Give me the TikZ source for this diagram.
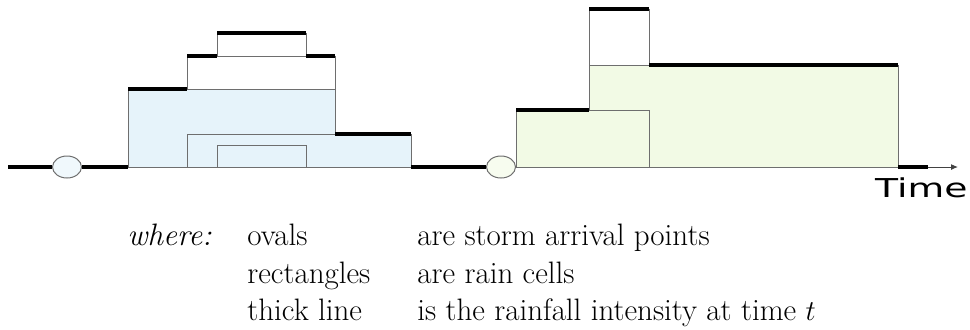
\documentclass[tikz,border=0pt]{standalone}
\usepackage{fontspec}
\usetikzlibrary{shapes.geometric,arrows.meta}
\newfontfamily\timefont{DejaVu Sans}
\definecolor{cellblue}{HTML}{E6F3FA}
\definecolor{cellgreen}{HTML}{F2FAE5}
\definecolor{edgegray}{HTML}{6E6E6E}
\begin{document}
\begin{tikzpicture}[x=0.5pt,y=-0.5pt,
  cell/.style={draw=edgegray,line width=0.5pt},
  rain/.style={line width=2pt},
  arrival/.style={ellipse,draw=edgegray,line width=0.5pt,inner sep=0pt,minimum width=14.5pt,minimum height=11pt},
  legend/.style={inner sep=0pt,font=\fontsize{15.5}{19}\selectfont}]
\useasboundingbox (0,0) rectangle (970,329);
\draw[edgegray!60!black,line width=0.5pt,-{Latex[length=3.5pt,width=3pt]}] (8,167) -- (958,167);
\filldraw[cell,fill=cellblue] (128,167) rectangle (335,89);
\filldraw[cell,fill=cellblue] (187,167) rectangle (411,134);
\draw[cell] (217,167) rectangle (306,145);
\draw[cell] (187,89) rectangle (335,56);
\draw[cell] (217,56) rectangle (306,33);
\filldraw[cell,fill=cellgreen] (589,167) rectangle (898,65);
\filldraw[cell,fill=cellgreen] (516,167) rectangle (649,110);
\draw[cell] (589,65) rectangle (649,9);
\node[arrival,fill=cellblue!60] (arr1) at (67,167) {};
\node[arrival,fill=cellgreen!60] (arr2) at (501,167) {};
\draw[rain] (8,167) -- (arr1.west);
\draw[rain] (arr1.east) -- (128,167);
\draw[rain] (128,89) -- (187,89);
\draw[rain] (187,56) -- (217,56);
\draw[rain] (217,33) -- (306,33);
\draw[rain] (306,56) -- (335,56);
\draw[rain] (335,134) -- (411,134);
\draw[rain] (411,167) -- (arr2.west);
\draw[rain] (516,110) -- (589,110);
\draw[rain] (589,9) -- (649,9);
\draw[rain] (649,65) -- (898,65);
\draw[rain] (898,167) -- (928,167);
\node[anchor=base east,inner sep=0pt,xscale=1.45,font=\timefont\fontsize{13}{15}\selectfont] (time) at (968,197) {Time};
\node[legend,anchor=base east] (where) at (212,245) {\itshape where:};
\node[legend,anchor=base west] (ovals) at (247,245) {ovals};
\node[legend,anchor=base west] (rects) at (247,283) {rectangles};
\node[legend,anchor=base west] (thick) at (247,320) {thick line};
\node[legend,anchor=base west] (arrtext) at (417,245) {are storm arrival points};
\node[legend,anchor=base west] (celltext) at (417,283) {are rain cells};
\node[legend,anchor=base west] (raintext) at (417,320) {is the rainfall intensity at time $t$};
\end{tikzpicture}
\end{document}
